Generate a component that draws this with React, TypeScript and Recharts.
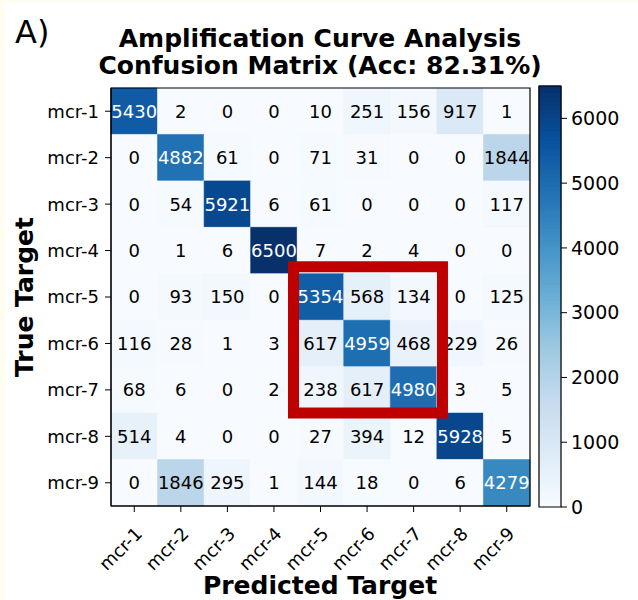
import React from 'react';
import { ScatterChart, Scatter, XAxis, YAxis, ReferenceArea } from 'recharts';

const trueLabels = ['mcr-1', 'mcr-2', 'mcr-3', 'mcr-4', 'mcr-5', 'mcr-6', 'mcr-7', 'mcr-8', 'mcr-9'];
const predLabels = ['mcr-1', 'mcr-2', 'mcr-3', 'mcr-4', 'mcr-5', 'mcr-6', 'mcr-7', 'mcr-8', 'mcr-9'];

const rowMcr1 = [5430, 2, 0, 0, 10, 251, 156, 917, 1];
const rowMcr2 = [0, 4882, 61, 0, 71, 31, 0, 0, 1844];
const rowMcr3 = [0, 54, 5921, 6, 61, 0, 0, 0, 117];
const rowMcr4 = [0, 1, 6, 6500, 7, 2, 4, 0, 0];
const rowMcr5 = [0, 93, 150, 0, 5354, 568, 134, 0, 125];
const rowMcr6 = [116, 28, 1, 3, 617, 4959, 468, 229, 26];
const rowMcr7 = [68, 6, 0, 2, 238, 617, 4980, 3, 5];
const rowMcr8 = [514, 4, 0, 0, 27, 394, 12, 5928, 5];
const rowMcr9 = [0, 1846, 295, 1, 144, 18, 0, 6, 4279];

const colorbarTicks = [0, 1000, 2000, 3000, 4000, 5000, 6000];
const vmin = 0;
const vmax = 6500;

// highlighted block: predicted mcr-5..mcr-7 vs true mcr-5..mcr-7
const highlightCols = [4, 6];
const highlightRows = [4, 6];

const matrix = [rowMcr1, rowMcr2, rowMcr3, rowMcr4, rowMcr5, rowMcr6, rowMcr7, rowMcr8, rowMcr9];

const BLUES: [number, number, number][] = [
  [247, 251, 255], [222, 235, 247], [198, 219, 239], [158, 202, 225], [107, 174, 214],
  [66, 146, 198], [33, 113, 181], [8, 81, 156], [8, 48, 107],
];

function blues(t: number): string {
  const tt = Math.max(0, Math.min(1, t));
  const pos = tt * (BLUES.length - 1);
  const i = Math.min(BLUES.length - 2, Math.floor(pos));
  const f = pos - i;
  const a = BLUES[i];
  const b = BLUES[i + 1];
  const c = a.map((v, k) => Math.round(v + (b[k] - v) * f));
  return `rgb(${c[0]},${c[1]},${c[2]})`;
}

const FONT = '"DejaVu Sans", sans-serif';

const cells = matrix.flatMap((row, r) => row.map((v, c) => ({ x: c, y: r, v })));

const XTick = (props: any) => {
  const { x, y, payload } = props;
  const px = x + 9;
  const py = y + 21;
  return (
    <text x={px} y={py} transform={`rotate(-45 ${px} ${py})`} textAnchor="end"
      fontFamily={FONT} fontSize={18} fill="#000">
      {predLabels[payload.value]}
    </text>
  );
};

const YTick = (props: any) => {
  const { x, y, payload } = props;
  return (
    <text x={x} y={y} dy="0.36em" textAnchor="end" fontFamily={FONT} fontSize={18} fill="#000">
      {trueLabels[payload.value]}
    </text>
  );
};

const CellText = (props: any) => {
  const { cx, cy, payload } = props;
  if (cx == null || cy == null) return <g />;
  const white = payload.v > (vmax + vmin) / 2;
  return (
    <text x={cx} y={cy} dy="0.36em" textAnchor="middle" fontFamily={FONT} fontSize={18}
      fill={white ? '#ffffff' : '#000000'}>
      {payload.v}
    </text>
  );
};

const EmptyShape = () => <g />;

const bandStep = 50;
const bands = Array.from({ length: vmax / bandStep }, (_, i) => i * bandStep);
const bandPoints = bands.map((b) => ({ x: 0.5, y: b }));

export default function App() {
  const idx = [0, 1, 2, 3, 4, 5, 6, 7, 8];
  return (
    <div style={{ position: 'absolute', left: 0, top: 0, width: 638, height: 600, background: '#fffdf0', overflow: 'hidden' }}>
      <div style={{ position: 'absolute', left: 5, top: 2, width: 633, height: 598, background: '#ffffff' }} />
      <div style={{ position: 'absolute', left: 0, top: 0 }}>
        <ScatterChart width={638} height={600} margin={{ top: 88, right: 108, bottom: 34, left: 51 }}>
          <XAxis type="number" dataKey="x" domain={[-0.5, 8.5]} ticks={idx} interval={0}
            height={60} tick={<XTick />} tickSize={6} axisLine={{ stroke: '#000' }}
            tickLine={{ stroke: '#000' }} allowDataOverflow />
          <YAxis type="number" dataKey="y" domain={[-0.5, 8.5]} ticks={idx} interval={0} reversed
            width={60} tick={<YTick />} tickSize={6} tickMargin={6} axisLine={{ stroke: '#000' }}
            tickLine={{ stroke: '#000' }} allowDataOverflow />
          {cells.map((d) => {
            const col = blues((d.v - vmin) / (vmax - vmin));
            return (
              <ReferenceArea key={`c-${d.x}-${d.y}`} x1={d.x - 0.5} x2={d.x + 0.5} y1={d.y - 0.5} y2={d.y + 0.5}
                fill={col} fillOpacity={1} stroke={col} strokeWidth={0.6} ifOverflow="visible" />
            );
          })}
          <Scatter data={cells} isAnimationActive={false} shape={<CellText />} />
          <ReferenceArea x1={-0.5} x2={8.5} y1={-0.5} y2={8.5} fill="none" stroke="#000" strokeWidth={1.2}
            ifOverflow="visible" />
          <ReferenceArea x1={highlightCols[0] - 0.58} x2={highlightCols[1] + 0.62}
            y1={highlightRows[0] - 0.65} y2={highlightRows[1] + 0.5}
            fill="none" fillOpacity={0} stroke="#bf0000" strokeWidth={11} ifOverflow="visible" zIndex={700} />
        </ScatterChart>
      </div>
      <div style={{ position: 'absolute', left: 0, top: 0 }}>
        <ScatterChart width={638} height={600} margin={{ top: 86, right: 7, bottom: 93, left: 539 }}>
          <XAxis type="number" dataKey="x" domain={[0, 1]} hide />
          <YAxis type="number" dataKey="y" orientation="right" domain={[vmin, vmax]}
            ticks={colorbarTicks} interval={0} width={70} tickSize={6} tickMargin={4}
            axisLine={false} tickLine={{ stroke: '#000' }}
            tick={{ fontFamily: FONT, fontSize: 19, fill: '#000' }} allowDataOverflow />
          {bands.map((b) => {
            const col = blues((b + bandStep / 2 - vmin) / (vmax - vmin));
            return (
              <ReferenceArea key={`b-${b}`} x1={0} x2={1} y1={b} y2={b + bandStep}
                fill={col} fillOpacity={1} stroke={col} strokeWidth={1} ifOverflow="visible" />
            );
          })}
          <ReferenceArea x1={0} x2={1} y1={vmin} y2={vmax} fill="none" stroke="#000" strokeWidth={1.2}
            ifOverflow="visible" />
          <Scatter data={bandPoints} isAnimationActive={false} shape={<EmptyShape />} />
        </ScatterChart>
      </div>
      <svg width={638} height={600} style={{ position: 'absolute', left: 0, top: 0, pointerEvents: 'none' }}>
        <text x={15} y={43} fontFamily={FONT} fontSize={32} fill="#000">A)</text>
        <text x={320} y={47} textAnchor="middle" fontFamily={FONT} fontWeight="bold" fontSize={25} fill="#000">
          Amplification Curve Analysis
        </text>
        <text x={320} y={74} textAnchor="middle" fontFamily={FONT} fontWeight="bold" fontSize={25} fill="#000">
          Confusion Matrix (Acc: 82.31%)
        </text>
        <text x={33} y={297} transform="rotate(-90 33 297)" textAnchor="middle" fontFamily={FONT}
          fontWeight="bold" fontSize={25} fill="#000">True Target</text>
        <text x={320} y={594} textAnchor="middle" fontFamily={FONT} fontWeight="bold" fontSize={25}
          fill="#000">Predicted Target</text>
      </svg>
    </div>
  );
}
